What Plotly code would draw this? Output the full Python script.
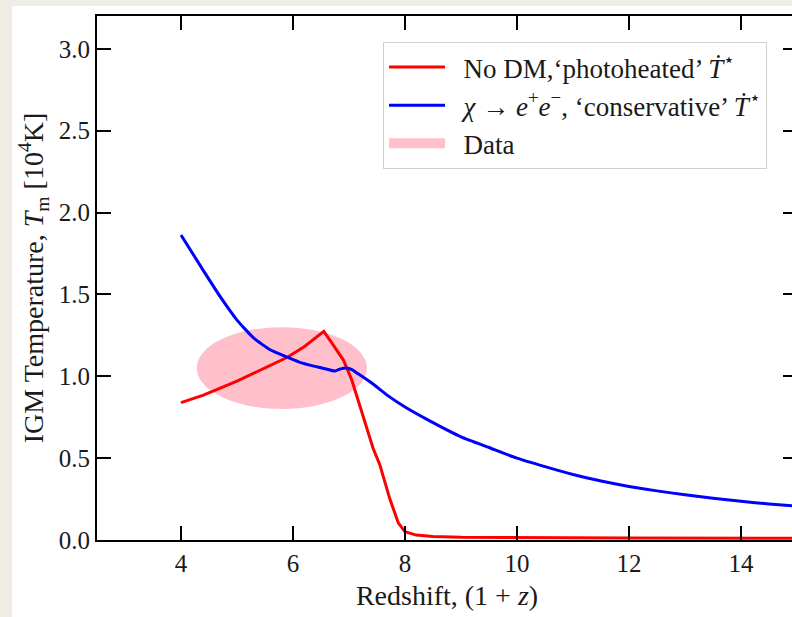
import plotly.graph_objects as go

# ---- data ----
redshift_nodm = [4.0, 4.4, 5.0, 5.6, 5.9, 6.2, 6.42, 6.55, 6.72, 6.9, 7.05, 7.2, 7.43, 7.55, 7.73, 7.88, 8.0, 8.2, 8.5, 9.0, 10.0, 12.0, 15.0]
temp_nodm = [0.839, 0.885, 0.970, 1.066, 1.116, 1.180, 1.240, 1.274, 1.190, 1.099, 0.977, 0.810, 0.560, 0.460, 0.250, 0.105, 0.050, 0.030, 0.022, 0.017, 0.014, 0.012, 0.010]

redshift_dm = [4.0, 4.4, 4.7, 5.0, 5.3, 5.6, 5.9, 6.1, 6.3, 6.5, 6.75, 6.85, 6.96, 7.05, 7.15, 7.4, 7.7, 8.0, 8.4, 9.0, 9.5, 10.0, 10.5, 11.0, 11.5, 12.0, 12.5, 13.0, 13.5, 14.0, 14.5, 15.0]
temp_dm = [1.863, 1.645, 1.486, 1.343, 1.233, 1.160, 1.116, 1.088, 1.068, 1.052, 1.032, 1.045, 1.050, 1.040, 1.018, 0.960, 0.880, 0.812, 0.735, 0.630, 0.565, 0.500, 0.448, 0.400, 0.360, 0.327, 0.300, 0.276, 0.255, 0.236, 0.220, 0.206]

data_center = (5.8, 1.05)      # (1+z, T)
data_half_width = (1.52, 0.25)  # semi-axes

x_ticks = [4, 6, 8, 10, 12, 14]
y_ticks = [0.0, 0.5, 1.0, 1.5, 2.0, 2.5, 3.0]

GAP = "\u2002"
label_nodm = GAP + "No DM,‘photoheated’ <i>Ṫ</i><sup>⋆</sup>"
label_dm = GAP + "<i>χ</i> → <i>e</i><sup>+</sup><i>e</i><sup>−</sup>, ‘conservative’ <i>Ṫ</i><sup>⋆</sup>"
label_data = GAP + "Data"

FONT = "Liberation Serif"
PINK = "#ffc0cb"
INK = "#1a1a1a"

fig = go.Figure()
fig.add_trace(go.Scatter(x=redshift_nodm, y=temp_nodm, mode="lines",
                         line=dict(color="#ff0000", width=3), name=label_nodm, legendrank=1))
fig.add_trace(go.Scatter(x=redshift_dm, y=temp_dm, mode="lines",
                         line=dict(color="#0000ff", width=3, shape="spline", smoothing=0.5),
                         name=label_dm, legendrank=2))
# legend entry for the data region (the region itself is drawn as a shape below)
fig.add_trace(go.Scatter(x=[None], y=[None], mode="lines",
                         line=dict(color=PINK, width=18),
                         name=label_data, legendrank=3))

fig.add_shape(type="circle", xref="x", yref="y", layer="below",
              x0=data_center[0] - data_half_width[0], x1=data_center[0] + data_half_width[0],
              y0=data_center[1] - data_half_width[1], y1=data_center[1] + data_half_width[1],
              fillcolor=PINK, line=dict(width=0))

axis_common = dict(showline=True, linewidth=2, linecolor="black", mirror="allticks",
                   ticks="inside", ticklen=14, tickwidth=2, tickcolor="black",
                   showgrid=False, zeroline=False,
                   tickfont=dict(family=FONT, size=25, color=INK))

fig.update_xaxes(range=[2.5, 15.0], tickvals=x_ticks, **axis_common,
                 title=dict(text="Redshift, (1 + <i>z</i>)", standoff=9,
                            font=dict(family=FONT, size=28, color=INK)))
fig.update_yaxes(range=[0, 3.2], tickvals=y_ticks, tickformat=".1f", **axis_common,
                 title=dict(text="IGM Temperature, <i>T</i><sub>m</sub> [10<sup>4</sup>K]", standoff=7,
                            font=dict(family=FONT, size=28, color=INK)))

fig.update_layout(
    width=788, height=611,
    margin=dict(l=85, r=3, t=10, b=77, autoexpand=False),
    paper_bgcolor="white", plot_bgcolor="white",
    showlegend=True,
    legend=dict(x=0.4086, y=0.9504, xanchor="left", yanchor="top",
                bgcolor="white", bordercolor="#d0d0d0", borderwidth=1,
                font=dict(family=FONT, size=27, color=INK),
                itemwidth=56, tracegroupgap=0),
)

post = ("document.body.style.margin='6px 0 0 12px';"
        "document.body.style.background='#efece4';"
        "document.documentElement.style.background='#efece4';"
        "document.body.style.overflow='hidden';"
        "document.documentElement.style.overflow='hidden';")
fig.write_html("out.html", post_script=post)
